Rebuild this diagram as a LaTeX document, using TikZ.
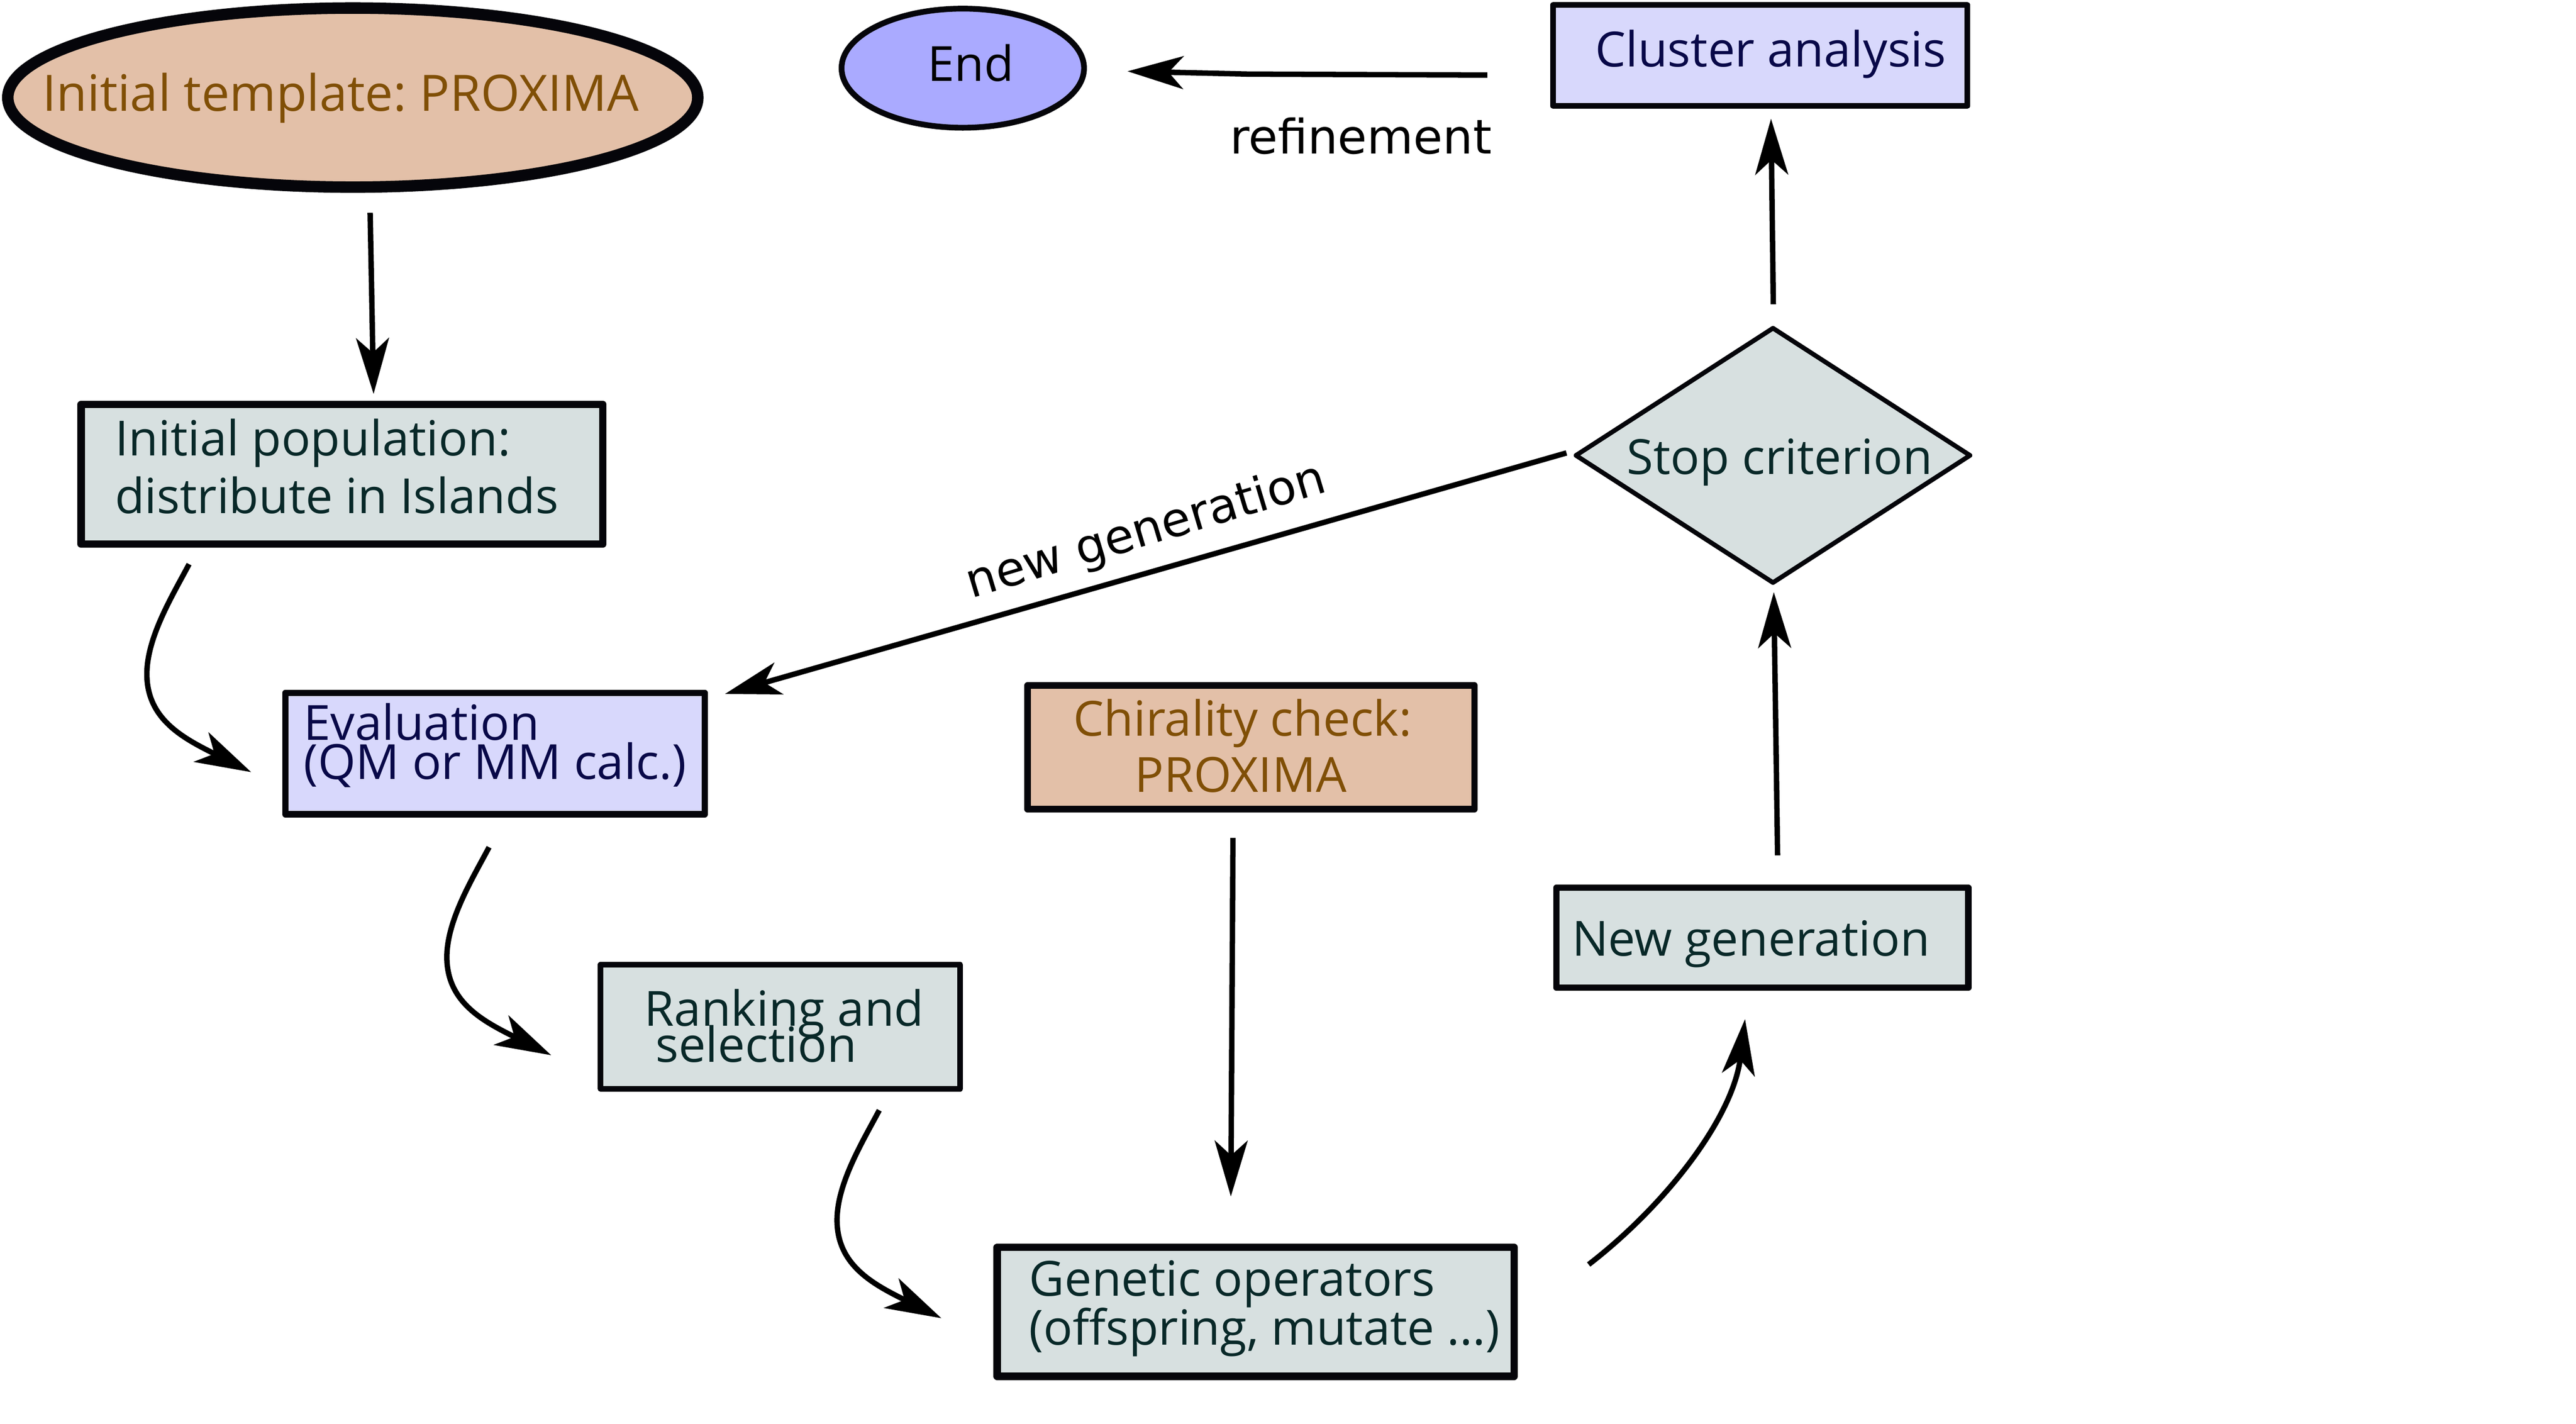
\documentclass[tikz,border=0pt]{standalone}
\usepackage{fontspec}
\setmainfont{Open Sans}
\newfontfamily\labelfont{DejaVu Sans}
\usetikzlibrary{arrows.meta,shapes.geometric}
\definecolor{salmonfill}{RGB}{227,192,168}
\definecolor{browntext}{RGB}{128,79,6}
\definecolor{lavfill}{RGB}{216,216,252}
\definecolor{navytext}{RGB}{8,8,72}
\definecolor{greyfill}{RGB}{215,224,224}
\definecolor{tealtext}{RGB}{8,40,40}
\definecolor{endfill}{RGB}{170,170,255}
\definecolor{edge}{RGB}{5,5,10}
\frenchspacing
\begin{document}
\begin{tikzpicture}[x=1pt,y=-1pt,
  box/.style={draw=edge,rectangle,inner sep=0pt,line join=round},
  oval/.style={draw=edge,ellipse,inner sep=0pt},
  txt/.style={inner sep=0pt,font=\fontsize{29.5}{34}\selectfont},
  lbl/.style={inner sep=0pt,font=\labelfont\fontsize{29}{34}\selectfont,text=black},
  conn/.style={draw=black,line width=3.3pt,line join=round,-{Stealth[length=34pt,width=20pt,inset=9pt]}},
]
\useasboundingbox (0,0) rectangle (1568,866.7);

% ---------- shapes ----------
\node[oval,line width=7pt,fill=salmonfill,minimum width=420pt,minimum height=109pt] (tmpl) at (214.75,59.4) {};
\node[oval,line width=3.5pt,fill=endfill,minimum width=147.6pt,minimum height=72.5pt] (endn) at (586.05,41.5) {};
\node[box,line width=3.5pt,fill=lavfill,minimum width=251.9pt,minimum height=61.6pt] (clus) at (1071.4,33.75) {};
\node[box,line width=4.5pt,fill=greyfill,minimum width=317.6pt,minimum height=85.1pt] (ipop) at (208.15,288.7) {};
\node[draw=edge,diamond,inner sep=0pt,line width=2.8pt,line join=round,fill=greyfill,minimum width=241pt,minimum height=156pt] (stop) at (1079.2,277.2) {};
\node[box,line width=4pt,fill=lavfill,minimum width=255.3pt,minimum height=73.8pt] (eval) at (301.35,458.7) {};
\node[box,line width=4pt,fill=salmonfill,minimum width=272.1pt,minimum height=75.3pt] (chir) at (761.45,454.95) {};
\node[box,line width=3.8pt,fill=greyfill,minimum width=250.7pt,minimum height=61pt] (ngen) at (1072.75,570.8) {};
\node[box,line width=3.4pt,fill=greyfill,minimum width=218.9pt,minimum height=75.5pt] (rank) at (475.05,625.05) {};
\node[box,line width=4.5pt,fill=greyfill,minimum width=314.7pt,minimum height=78.5pt] (gen) at (764.3,798.5) {};

% ---------- texts ----------
\node[txt,text=browntext,anchor=base west,font=\fontsize{30.5}{34}\selectfont] (ttmpl) at (25.7,67.7) {Initial template: PROXIMA};
\node[txt,text=black,anchor=base west] (tend) at (564.4,49.3) {End};
\node[txt,text=navytext,anchor=base west] (tclus) at (970.7,40.5) {Cluster analysis};
\node[txt,text=tealtext,anchor=base west] (tipop1) at (69.8,277.5) {Initial population:};
\node[txt,text=tealtext,anchor=base west] (tipop2) at (69.8,312.5) {distribute in Islands};
\node[txt,text=tealtext,anchor=base west] (tstop) at (990.1,288.8) {Stop criterion};
\node[txt,text=navytext,anchor=base west] (teval1) at (184.7,450.6) {Evaluation};
\node[txt,text=navytext,anchor=base west] (teval2) at (184.7,474.3) {(QM or MM calc.)};
\node[txt,text=browntext,anchor=base west] (tchir1) at (653.2,447.9) {Chirality check:};
\node[txt,text=browntext,anchor=base west] (tchir2) at (690.5,482.2) {PROXIMA};
\node[txt,text=tealtext,anchor=base west] (tngen) at (956.6,581.8) {New generation};
\node[txt,text=tealtext,anchor=base west] (trank1) at (392,624.4) {Ranking and};
\node[txt,text=tealtext,anchor=base west] (trank2) at (398.8,646.6) {selection};
\node[txt,text=tealtext,anchor=base west] (tgen1) at (626.3,788.9) {Genetic operators};
\node[txt,text=tealtext,anchor=base west] (tgen2) at (626.3,818.7) {(offspring, mutate ...)};
\node[lbl,anchor=base west] (lref) at (748.4,93.6) {refinement};
\node[lbl,anchor=base west,rotate=16.65] (lnew) at (591.2,364.2) {new generation};

% ---------- connector end points ----------
\coordinate (a1s) at (225.3,129.5);  \coordinate (a1e) at (227.4,239.8);
\coordinate (a2s) at (115.1,343.4);
\coordinate (a3s) at (297.7,515.7);
\coordinate (a4s) at (535.2,675.8);
\coordinate (a5s) at (750.5,510);    \coordinate (a5e) at (749.2,728.3);
\coordinate (a6s) at (967,769.7);    \coordinate (a6e) at (1062.2,620.3);
\coordinate (a7s) at (1082,520.7);   \coordinate (a7e) at (1079.7,360.4);
\coordinate (a8s) at (1079.4,185.2); \coordinate (a8e) at (1078,72.3);
\coordinate (a9s) at (905.3,45.7);   \coordinate (a9k) at (759.5,45.1); \coordinate (a9e) at (686.3,43.4);
\coordinate (a10s) at (953.5,275.7); \coordinate (a10e) at (441.3,422.4);

% ---------- connectors ----------
\draw[conn] (a1s) -- (a1e);
\draw[conn] (a2s) .. controls +(-10.3,19.4) and +(0,-22.3) .. ++(-25.7,66.9)
                  .. controls +(0,28) and +(-40.5,-20.25) .. ++(63.5,59.7);
\draw[conn] (a3s) .. controls +(-10.3,19.4) and +(0,-22.3) .. ++(-25.7,66.9)
                  .. controls +(0,28) and +(-40.5,-20.25) .. ++(63.5,59.7);
\draw[conn] (a4s) .. controls +(-10.3,19.4) and +(0,-22.3) .. ++(-25.7,66.9)
                  .. controls +(0,28) and +(-40.5,-20.25) .. ++(63.5,59.7);
\draw[conn] (a5s) -- (a5e);
\draw[conn] (a6s) .. controls +(47.4,-36.6) and +(-7.2,59.7) .. (a6e);
\draw[conn] (a7s) -- (a7e);
\draw[conn] (a8s) -- (a8e);
\draw[conn] (a9s) -- (a9k) -- (a9e);
\draw[conn] (a10s) -- (a10e);
\end{tikzpicture}
\end{document}
